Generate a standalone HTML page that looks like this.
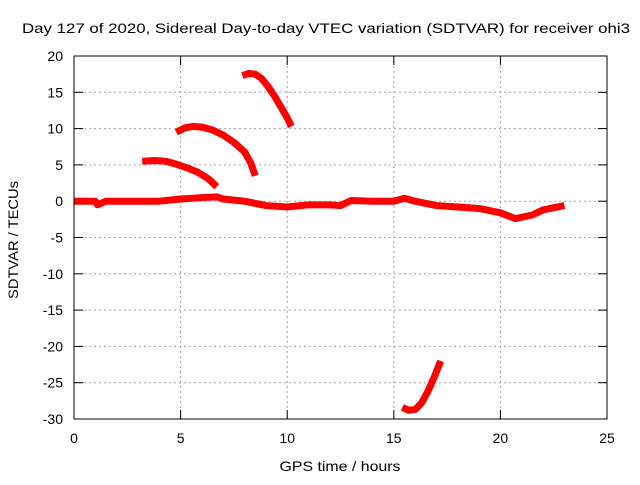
<!DOCTYPE html>
<html><head><meta charset="utf-8"><style>
body{margin:0;background:#fff;}
svg text{font-family:"Liberation Sans",sans-serif;font-size:14px;fill:#000;}
</style></head><body>
<svg width="640" height="480">
<g id="grid"></g>
<g id="ticks"></g>
<g id="series"></g>
<rect x="74" y="56" width="533" height="363" fill="none" stroke="#000" stroke-width="1"/>
<text x="326" y="33" text-anchor="middle" textLength="608" lengthAdjust="spacingAndGlyphs">Day 127 of 2020, Sidereal Day-to-day VTEC variation (SDTVAR) for receiver ohi3</text>
<text x="340" y="471" text-anchor="middle" textLength="121" lengthAdjust="spacingAndGlyphs">GPS time / hours</text>
<text x="18" y="240" text-anchor="middle" textLength="118" lengthAdjust="spacingAndGlyphs" transform="rotate(-90 18 240)">SDTVAR / TECUs</text>
</svg>
<script>
const xTicks=[0,5,10,15,20,25];
const yTicks=[20,15,10,5,0,-5,-10,-15,-20,-25,-30];
const mainX=[0,0.5,1.0,1.1,1.5,2,3,4,5,6,6.7,7,8,9,10,11,12,12.5,13,14,15,15.5,16,17,18,19,20,20.7,21.5,22,23];
const mainY=[0,0,0,-0.5,0,0,0,0,0.3,0.5,0.6,0.3,0,-0.6,-0.8,-0.5,-0.5,-0.6,0.1,0,0,0.4,0,-0.6,-0.8,-1,-1.6,-2.4,-1.9,-1.2,-0.6];
const arc1X=[3.2,3.8,4.3,4.8,5.3,5.8,6.3,6.7];
const arc1Y=[5.5,5.6,5.5,5.1,4.6,4.0,3.1,2.0];
const arc2X=[4.8,5.2,5.6,6.0,6.5,7.0,7.5,8.0,8.3,8.5];
const arc2Y=[9.5,10.1,10.3,10.2,9.8,9.1,8.1,6.8,5.2,3.5];
const arc3X=[7.9,8.2,8.5,8.8,9.1,9.4,9.7,10.0,10.2];
const arc3Y=[17.3,17.6,17.5,16.9,15.8,14.5,13.0,11.5,10.3];
const arc4X=[15.4,15.7,16.0,16.3,16.6,16.9,17.2];
const arc4Y=[-28.4,-28.8,-28.7,-27.8,-26.2,-24.2,-22.0];
const NS="http://www.w3.org/2000/svg";
const sx=h=>74+h*533/25, sy=v=>56+(20-v)*363/50;
const grid=document.getElementById('grid'),ticks=document.getElementById('ticks'),ser=document.getElementById('series');
function mk(t,a,p){const e=document.createElementNS(NS,t);for(const k in a)e.setAttribute(k,a[k]);p.appendChild(e);return e;}
xTicks.forEach(t=>{const x=sx(t);
 if(t>0&&t<25){const g=mk('line',{x1:x,x2:x,y1:56,y2:419,stroke:'#a0a0a0','stroke-dasharray':'2,3'},grid);
 
 }
 mk('line',{x1:x,x2:x,y1:419,y2:410,stroke:'#000'},ticks);mk('line',{x1:x,x2:x,y1:56,y2:65,stroke:'#000'},ticks);
 const l=mk('text',{x:x,y:443,'text-anchor':'middle'},ticks);l.textContent=t;
 
 });
yTicks.forEach(t=>{const y=sy(t);
 if(t<20&&t>-30){const g=mk('line',{x1:74,x2:607,y1:y,y2:y,stroke:'#a0a0a0','stroke-dasharray':'2,3'},grid);
 
 }
 mk('line',{x1:74,x2:83,y1:y,y2:y,stroke:'#000'},ticks);mk('line',{x1:607,x2:598,y1:y,y2:y,stroke:'#000'},ticks);
 const l=mk('text',{x:63,y:y+5,'text-anchor':'end'},ticks);l.textContent=t;
 
 });
[[mainX,mainY,'series-main'],[arc1X,arc1Y,'series-arc-1'],[arc2X,arc2Y,'series-arc-2'],[arc3X,arc3Y,'series-arc-3'],[arc4X,arc4Y,'series-arc-4']].forEach(([xs,ys,n])=>{
 const p=mk('polyline',{points:xs.map((x,i)=>sx(x)+','+sy(ys[i])).join(' '),fill:'none',stroke:'#ff0000','stroke-width':7,'stroke-linejoin':'round'},ser);
 
 });
</script>
</body></html>
